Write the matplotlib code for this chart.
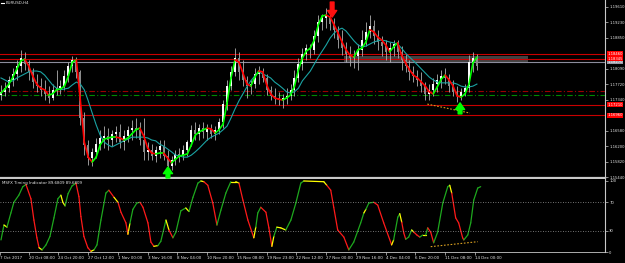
import numpy as np
import matplotlib
matplotlib.use("Agg")
import matplotlib.pyplot as plt
from matplotlib.collections import LineCollection
import matplotlib.transforms as mtransforms

symbol_label = "EURUSD,H4"
indicator_label = "MSFX Timing Indicator 89.6809 89.6809"

# ---- H4 candles, one drawn every 2 bars ----
c_open = [
    1.1745, 1.1753, 1.1762, 1.1782, 1.1797, 1.1816, 1.1836, 1.1821, 1.1802, 1.1777,
    1.1767, 1.1758, 1.1748, 1.1738, 1.1758, 1.1762, 1.1767, 1.1792, 1.1816, 1.1831,
    1.1802, 1.1689, 1.1623, 1.1591, 1.1606, 1.1625, 1.1640, 1.1645, 1.1635, 1.1650,
    1.1655, 1.1630, 1.1645, 1.1660, 1.1664, 1.1660, 1.1635, 1.1606, 1.1611, 1.1596,
    1.1611, 1.1620, 1.1596, 1.1571, 1.1586, 1.1601, 1.1596, 1.1611, 1.1630, 1.1660,
    1.1650, 1.1664, 1.1655, 1.1664, 1.1650, 1.1660, 1.1679, 1.1723, 1.1767, 1.1802,
    1.1836, 1.1802, 1.1782, 1.1767, 1.1772, 1.1797, 1.1802, 1.1787, 1.1758, 1.1743,
    1.1738, 1.1733, 1.1738, 1.1743, 1.1758, 1.1787, 1.1821, 1.1846, 1.1860, 1.1856,
    1.1890, 1.1924, 1.1934, 1.1939, 1.1919, 1.1905, 1.1880, 1.1860, 1.1846, 1.1836,
    1.1841, 1.1856, 1.1880, 1.1900, 1.1914, 1.1890, 1.1875, 1.1865, 1.1851, 1.1860,
    1.1870, 1.1851, 1.1831, 1.1816, 1.1802, 1.1792, 1.1782, 1.1767, 1.1748, 1.1758,
    1.1772, 1.1782, 1.1792, 1.1787, 1.1767, 1.1753, 1.1743, 1.1753, 1.1762, 1.1826,
    1.1836]
c_high = [
    1.1770, 1.1777, 1.1792, 1.1811, 1.1831, 1.1856, 1.1851, 1.1831, 1.1811, 1.1797,
    1.1787, 1.1782, 1.1767, 1.1772, 1.1807, 1.1782, 1.1807, 1.1826, 1.1841, 1.1838,
    1.1807, 1.1704, 1.1635, 1.1615, 1.1640, 1.1660, 1.1669, 1.1664, 1.1660, 1.1669,
    1.1674, 1.1660, 1.1669, 1.1684, 1.1689, 1.1679, 1.1689, 1.1630, 1.1625, 1.1620,
    1.1635, 1.1635, 1.1611, 1.1596, 1.1611, 1.1615, 1.1623, 1.1635, 1.1672, 1.1679,
    1.1674, 1.1679, 1.1674, 1.1674, 1.1669, 1.1689, 1.1733, 1.1782, 1.1816, 1.1860,
    1.1851, 1.1831, 1.1792, 1.1782, 1.1811, 1.1816, 1.1811, 1.1797, 1.1767, 1.1762,
    1.1753, 1.1748, 1.1762, 1.1772, 1.1807, 1.1836, 1.1860, 1.1870, 1.1870, 1.1905,
    1.1941, 1.1944, 1.1958, 1.1949, 1.1934, 1.1914, 1.1905, 1.1875, 1.1865, 1.1856,
    1.1870, 1.1905, 1.1924, 1.1941, 1.1929, 1.1905, 1.1890, 1.1880, 1.1875, 1.1880,
    1.1880, 1.1865, 1.1846, 1.1831, 1.1816, 1.1807, 1.1802, 1.1777, 1.1772, 1.1787,
    1.1797, 1.1807, 1.1811, 1.1797, 1.1782, 1.1767, 1.1762, 1.1772, 1.1843, 1.1851,
    1.1846]
c_low = [
    1.1733, 1.1743, 1.1753, 1.1767, 1.1782, 1.1802, 1.1807, 1.1782, 1.1762, 1.1753,
    1.1743, 1.1733, 1.1726, 1.1733, 1.1745, 1.1748, 1.1758, 1.1777, 1.1802, 1.1787,
    1.1672, 1.1598, 1.1574, 1.1571, 1.1591, 1.1611, 1.1615, 1.1611, 1.1620, 1.1630,
    1.1615, 1.1611, 1.1630, 1.1635, 1.1640, 1.1623, 1.1586, 1.1586, 1.1586, 1.1581,
    1.1591, 1.1586, 1.1557, 1.1562, 1.1574, 1.1581, 1.1586, 1.1596, 1.1620, 1.1635,
    1.1635, 1.1640, 1.1635, 1.1640, 1.1635, 1.1650, 1.1664, 1.1709, 1.1758, 1.1792,
    1.1782, 1.1767, 1.1738, 1.1748, 1.1762, 1.1772, 1.1777, 1.1745, 1.1733, 1.1723,
    1.1721, 1.1713, 1.1723, 1.1733, 1.1743, 1.1777, 1.1807, 1.1831, 1.1836, 1.1846,
    1.1875, 1.1905, 1.1909, 1.1905, 1.1885, 1.1860, 1.1843, 1.1826, 1.1816, 1.1811,
    1.1807, 1.1841, 1.1865, 1.1885, 1.1870, 1.1856, 1.1841, 1.1831, 1.1826, 1.1841,
    1.1836, 1.1807, 1.1802, 1.1782, 1.1777, 1.1767, 1.1753, 1.1733, 1.1733, 1.1743,
    1.1753, 1.1762, 1.1772, 1.1753, 1.1743, 1.1728, 1.1733, 1.1743, 1.1753, 1.1802,
    1.1807]
c_close = [
    1.1753, 1.1762, 1.1782, 1.1797, 1.1816, 1.1836, 1.1821, 1.1802, 1.1777, 1.1767,
    1.1758, 1.1748, 1.1738, 1.1758, 1.1762, 1.1767, 1.1792, 1.1816, 1.1831, 1.1802,
    1.1689, 1.1623, 1.1591, 1.1606, 1.1625, 1.1640, 1.1645, 1.1635, 1.1650, 1.1655,
    1.1630, 1.1645, 1.1660, 1.1664, 1.1660, 1.1635, 1.1606, 1.1611, 1.1596, 1.1611,
    1.1620, 1.1596, 1.1571, 1.1586, 1.1601, 1.1596, 1.1611, 1.1630, 1.1660, 1.1650,
    1.1664, 1.1655, 1.1664, 1.1650, 1.1660, 1.1679, 1.1723, 1.1767, 1.1802, 1.1836,
    1.1802, 1.1782, 1.1767, 1.1772, 1.1797, 1.1802, 1.1787, 1.1758, 1.1743, 1.1738,
    1.1733, 1.1738, 1.1743, 1.1758, 1.1787, 1.1821, 1.1846, 1.1860, 1.1856, 1.1890,
    1.1924, 1.1934, 1.1939, 1.1919, 1.1905, 1.1880, 1.1860, 1.1846, 1.1836, 1.1841,
    1.1856, 1.1880, 1.1900, 1.1914, 1.1890, 1.1875, 1.1865, 1.1851, 1.1860, 1.1870,
    1.1851, 1.1831, 1.1816, 1.1802, 1.1792, 1.1782, 1.1767, 1.1748, 1.1758, 1.1772,
    1.1782, 1.1792, 1.1787, 1.1767, 1.1753, 1.1743, 1.1753, 1.1762, 1.1826, 1.1836,
    1.1816]

# smoothed trend line (green rising / red falling) and teal moving average
smooth_line = [
    1.1750, 1.1760, 1.1772, 1.1789, 1.1809, 1.1829, 1.1833, 1.1816, 1.1792, 1.1772,
    1.1762, 1.1758, 1.1745, 1.1748, 1.1758, 1.1760, 1.1767, 1.1792, 1.1826, 1.1831,
    1.1733, 1.1630, 1.1593, 1.1581, 1.1593, 1.1623, 1.1637, 1.1640, 1.1642, 1.1642,
    1.1640, 1.1635, 1.1640, 1.1650, 1.1660, 1.1664, 1.1645, 1.1615, 1.1603, 1.1601,
    1.1603, 1.1603, 1.1591, 1.1579, 1.1588, 1.1596, 1.1598, 1.1601, 1.1623, 1.1647,
    1.1655, 1.1660, 1.1664, 1.1662, 1.1652, 1.1660, 1.1674, 1.1726, 1.1787, 1.1831,
    1.1826, 1.1799, 1.1772, 1.1767, 1.1789, 1.1804, 1.1802, 1.1770, 1.1748, 1.1738,
    1.1735, 1.1733, 1.1738, 1.1745, 1.1767, 1.1807, 1.1836, 1.1853, 1.1860, 1.1880,
    1.1917, 1.1939, 1.1941, 1.1936, 1.1917, 1.1897, 1.1875, 1.1856, 1.1843, 1.1838,
    1.1856, 1.1860, 1.1875, 1.1905, 1.1900, 1.1887, 1.1880, 1.1868, 1.1851, 1.1863,
    1.1873, 1.1843, 1.1824, 1.1807, 1.1794, 1.1787, 1.1777, 1.1767, 1.1753, 1.1748,
    1.1765, 1.1784, 1.1794, 1.1782, 1.1767, 1.1743, 1.1740, 1.1748, 1.1772, 1.1824,
    1.1838]
ma_line = [
    1.1787, 1.1782, 1.1777, 1.1780, 1.1787, 1.1792, 1.1797, 1.1802, 1.1804, 1.1804,
    1.1802, 1.1794, 1.1782, 1.1770, 1.1762, 1.1758, 1.1760, 1.1762, 1.1770, 1.1777,
    1.1772, 1.1758, 1.1731, 1.1701, 1.1672, 1.1647, 1.1630, 1.1623, 1.1618, 1.1623,
    1.1628, 1.1633, 1.1637, 1.1642, 1.1642, 1.1642, 1.1642, 1.1640, 1.1635, 1.1633,
    1.1625, 1.1620, 1.1613, 1.1606, 1.1598, 1.1596, 1.1593, 1.1593, 1.1598, 1.1606,
    1.1615, 1.1625, 1.1635, 1.1642, 1.1647, 1.1652, 1.1660, 1.1669, 1.1689, 1.1711,
    1.1731, 1.1748, 1.1765, 1.1780, 1.1792, 1.1802, 1.1797, 1.1792, 1.1787, 1.1777,
    1.1770, 1.1762, 1.1753, 1.1750, 1.1753, 1.1762, 1.1780, 1.1792, 1.1804, 1.1821,
    1.1838, 1.1853, 1.1868, 1.1885, 1.1897, 1.1905, 1.1909, 1.1902, 1.1890, 1.1878,
    1.1868, 1.1863, 1.1865, 1.1870, 1.1875, 1.1878, 1.1880, 1.1878, 1.1875, 1.1873,
    1.1870, 1.1860, 1.1848, 1.1838, 1.1829, 1.1819, 1.1809, 1.1799, 1.1789, 1.1782,
    1.1777, 1.1775, 1.1775, 1.1775, 1.1775, 1.1772, 1.1767, 1.1765, 1.1765, 1.1767,
    1.1772]

# ---- MSFX timing indicator (bar position, value, segment colour) ----
ind_bar = [
    0, 1.5, 3, 5, 6.5, 9, 11, 12.6, 15.1, 16.6,
    18.1, 19.2, 20.7, 22.7, 24.7, 26.7, 28.7, 30.2, 31.2, 32.3,
    33.8, 35.8, 37.8, 39.3, 40.3, 41.8, 43.8, 45.4, 46.9, 48.4,
    50.4, 52.9, 54.4, 57, 59, 60.5, 63, 64, 65, 66.5,
    68.5, 70.1, 71.6, 74.1, 75.6, 77.1, 79.1, 80.6, 83.2, 84.7,
    86.7, 88.2, 90.7, 93.2, 94.8, 96.8, 99.3, 100.8, 102.3, 104.3,
    106.8, 108.9, 110.9, 113.4, 115.9, 118.4, 120, 122, 124.5, 127.5,
    128.5, 129.5, 131, 133.6, 135.1, 136.6, 137.6, 139.1, 141.1, 143.6,
    146.2, 148.7, 151.2, 152.7, 162.8, 164.3, 166.3, 167.8, 169.8, 172.9,
    175.4, 177.9, 181.4, 183, 184, 185.5, 188, 190, 193, 197,
    198, 200.1, 201.1, 202.1, 203.1, 204.1, 205.6, 207.1, 208.2, 209.7,
    211.2, 212.7, 214.2, 215.2, 216.7, 218.2, 220.2, 222.8, 225.3, 226.3,
    227.3, 229.3, 230.8, 232.8, 233.4, 235.4, 236.9, 238.4, 240.4, 241.9]
ind_val = [
    17, 38, 35, 55, 70, 80, 92, 95, 75, 45,
    20, 6, 3, 10, 22, 48, 75, 80, 70, 65,
    82, 93, 97, 78, 50, 22, 6, 1, 3, 10,
    45, 83, 87, 77, 70, 56, 41, 25, 40, 60,
    69, 70, 63, 41, 14, 8, 9, 15, 45, 31,
    20, 28, 58, 62, 57, 77, 97, 100, 99, 94,
    69, 38, 59, 83, 99, 99, 97, 73, 45, 20,
    35, 55, 63, 56, 34, 8, 22, 35, 34, 31,
    45, 69, 97, 100, 99, 94, 87, 63, 31, 21,
    3, 14, 41, 55, 60, 69, 70, 66, 41, 10,
    17, 49, 54, 42, 27, 18, 21, 31, 28, 24,
    21, 24, 24, 34, 28, 13, 28, 69, 92, 94,
    83, 48, 41, 20, 17, 24, 41, 73, 90, 92]
ind_col = "".join([
    "gygggggrrr",
    "rygggggyyg",
    "ggrrrrrygg",
    "ggryrrrygg",
    "grrrryggyr",
    "gggygggyrr",
    "rgggyyrrry",
    "ggrrrygyyg",
    "gggyyrrrrr",
    "gggyggrrry",
    "ggyrrggyrr",
    "gygrrggggy",
    "rrrrgggggg",
])

# horizontal levels drawn on the chart
res_levels = [1.18460, 1.18345]
res_labels = ["1.18460", "1.18345"]
pivot_level = 1.18270
pivot_label = "1.18270"
sup_levels = [1.17210, 1.16960]
sup_labels = ["1.17210", "1.16960"]
dashdot_red = 1.17550
dashdot_green = 1.17450
zone_bars = [173, 266]
zone_prices = [1.18260, 1.18410]
price_trend = ([215, 236.5], [1.1723, 1.1701])
ind_trend = ([216.7, 240.4], [7.5, 14.5])

# signal arrows: (bar, tip price, tail price)
buy_arrows = [(84.2, 1.1569, 1.1542), (231.5, 1.1726, 1.1699)]
sell_arrows = [(167.0, 1.1936, 1.1973)]

price_ticks = [1.19610, 1.19230, 1.18850, 1.18090, 1.17720, 1.17340,
               1.16580, 1.16200, 1.15820, 1.15440]
time_ticks = [-0.5, 14, 29, 44, 59, 74, 89, 104, 119, 134, 149, 164, 179, 194, 209, 224, 239]
time_labels = ["7 Oct 2017", "20 Oct 08:00", "24 Oct 20:00", "27 Oct 12:00", "1 Nov 00:00",
               "3 Nov 16:00", "8 Nov 04:00", "10 Nov 20:00", "15 Nov 08:00", "19 Nov 23:00",
               "22 Nov 12:00", "27 Nov 00:00", "29 Nov 16:00", "4 Dec 04:00", "6 Dec 20:00",
               "11 Dec 08:00", "14 Dec 00:00"]
ind_ticks = [100, 70, 30, 0]

# ---------------------------------------------------------------
W, H = 625, 263
fig = plt.figure(figsize=(W / 100, H / 100), dpi=100, facecolor="black")


def rect(x0, y0, x1, y1):
    return [x0 / W, 1 - y1 / H, (x1 - x0) / W, (y1 - y0) / H]


ax = fig.add_axes(rect(0, 0, 605, 178), facecolor="black")
ax2 = fig.add_axes(rect(0, 179, 605, 252), facecolor="black", sharex=ax)

TXT = "#e6e6e6"
FS = 2.9
XMAX = 304.6
ax.set_xlim(-0.5, XMAX)
ax.set_ylim(1.15419, 1.19780)
ax2.set_ylim(0, 102.8)

# zone rectangle
ax.fill_between(zone_bars, zone_prices[0], zone_prices[1], color="#424242", lw=0, zorder=1)

# horizontal levels
for lv in res_levels + sup_levels:
    ax.axhline(lv, color="#c80000", lw=0.8, zorder=2)
ax.axhline(pivot_level, color="#8c8c9c", lw=0.8, zorder=2)
ax.axhline(dashdot_red, color="#9a0000", lw=0.8, ls=(0, (5, 2, 1, 2)), zorder=2)
ax.axhline(dashdot_green, color="#008a00", lw=0.8, ls=(0, (5, 2, 1, 2)), zorder=2)

# candles
xb = np.arange(len(c_close)) * 2.0
o, hi, lo, cl = (np.array(a) for a in (c_open, c_high, c_low, c_close))
ax.vlines(xb, lo, hi, colors="#b0b0b0", lw=0.6, zorder=3)
up = cl >= o
ax.vlines(xb[up], o[up], cl[up], colors="#ffffff", lw=1.4, zorder=4)
ax.vlines(xb[~up], cl[~up], o[~up], colors="#8a8a8a", lw=1.4, zorder=4)

# moving average
xm = np.arange(len(ma_line)) * 2.0
ax.plot(xm, ma_line, color="#1aa3a3", lw=0.8, zorder=5)

# smoothed line coloured by slope
xs = np.arange(len(smooth_line)) * 2.0
sm = np.array(smooth_line)
pts = np.column_stack([xs, sm])
segs = np.stack([pts[:-1], pts[1:]], axis=1)
cols = np.where(np.diff(sm) >= 0, "#00ff00", "#ff0000")
ax.add_collection(LineCollection(segs, colors=cols, linewidths=1.2, zorder=6, capstyle="round"))

# trend line
ax.plot(price_trend[0], price_trend[1], color="#d9a020", lw=0.8, ls=(0, (1.5, 1.5)), zorder=6)

# arrows
astyle = "simple,head_width=1.1,head_length=0.8,tail_width=0.45"
for b, tip, tail in buy_arrows:
    ax.annotate("", xy=(b, tip), xytext=(b, tail), annotation_clip=False,
                arrowprops=dict(arrowstyle=astyle, color="#00ff00", mutation_scale=6,
                                shrinkA=0, shrinkB=0), zorder=8)
for b, tip, tail in sell_arrows:
    ax.annotate("", xy=(b, tip), xytext=(b, tail), annotation_clip=False,
                arrowprops=dict(arrowstyle=astyle, color="#ff1010", mutation_scale=6,
                                shrinkA=0, shrinkB=0), zorder=8)

# indicator panel
iv = np.array(ind_val, dtype=float)
ipts = np.column_stack([ind_bar, iv])
isegs = np.stack([ipts[:-1], ipts[1:]], axis=1)
cmap = {"g": "#1ea81e", "r": "#ff1a1a", "y": "#ffff00"}
icols = [cmap[ind_col[i]] for i in range(len(isegs))]
ax2.add_collection(LineCollection(isegs, colors=icols, linewidths=0.9, capstyle="round"))
ax2.axhline(70, color="#9a9a9a", lw=0.6, ls=(0, (1, 2)))
ax2.axhline(30, color="#9a9a9a", lw=0.6, ls=(0, (1, 2)))
ax2.plot(ind_trend[0], ind_trend[1], color="#d9a020", lw=0.8, ls=(0, (1.5, 1.5)))

# axes styling
for a in (ax, ax2):
    for s in ("left", "top"):
        a.spines[s].set_visible(False)
    a.spines["right"].set_color("#c8c8c8")
    a.spines["right"].set_linewidth(0.8)
    a.yaxis.tick_right()
    a.tick_params(axis="y", colors="#c8c8c8", labelcolor=TXT, labelsize=FS - 0.2,
                  length=2, width=0.5, pad=1)
ax.spines["bottom"].set_color("#c8c8c8")
ax.spines["bottom"].set_linewidth(1.6)
ax2.spines["bottom"].set_color("#c8c8c8")
ax2.spines["bottom"].set_linewidth(0.6)

ax.set_yticks(price_ticks)
ax.set_yticklabels([f"{p:.5f}" for p in price_ticks])
ax.tick_params(axis="x", bottom=False, labelbottom=False)
ax2.set_yticks(ind_ticks)
ax2.set_yticklabels([str(t) for t in ind_ticks])
ax2.set_xticks(time_ticks)
ax2.set_xticklabels(time_labels, ha="left", fontsize=FS, color=TXT)
ax2.tick_params(axis="x", colors="#c8c8c8", labelcolor=TXT, length=2, width=0.5, pad=0.8)
ax2.set_xlim(-0.5, XMAX)

# level label boxes on the price scale
trans = mtransforms.blended_transform_factory(ax.transAxes, ax.transData)
ax.text(1.004, pivot_level, pivot_label, transform=trans, fontsize=FS - 0.2, color="white",
        va="center", ha="left", clip_on=False, zorder=9,
        bbox=dict(facecolor="#9a9aa6", edgecolor="none", pad=0.4))
for lv, lb in list(zip(res_levels, res_labels))[::-1] + list(zip(sup_levels, sup_labels)):
    ax.text(1.004, lv, lb, transform=trans, fontsize=FS - 0.2, color="white",
            va="center", ha="left", clip_on=False, zorder=10,
            bbox=dict(facecolor="#ff0000", edgecolor="none", pad=0.4))

# titles
ax.text(6 / 605, 1 - 3 / 178, symbol_label, transform=ax.transAxes, fontsize=FS,
        color=TXT, va="center", ha="left")
ax.plot([1 / 605, 4 / 605], [1 - 3 / 178, 1 - 3 / 178], transform=ax.transAxes,
        color="white", lw=0.8, clip_on=False)
ax2.text(2 / 605, 0.945, indicator_label, transform=ax2.transAxes, fontsize=FS,
         color=TXT, va="center", ha="left")

fig.savefig("out.png", dpi=100, facecolor="black")
